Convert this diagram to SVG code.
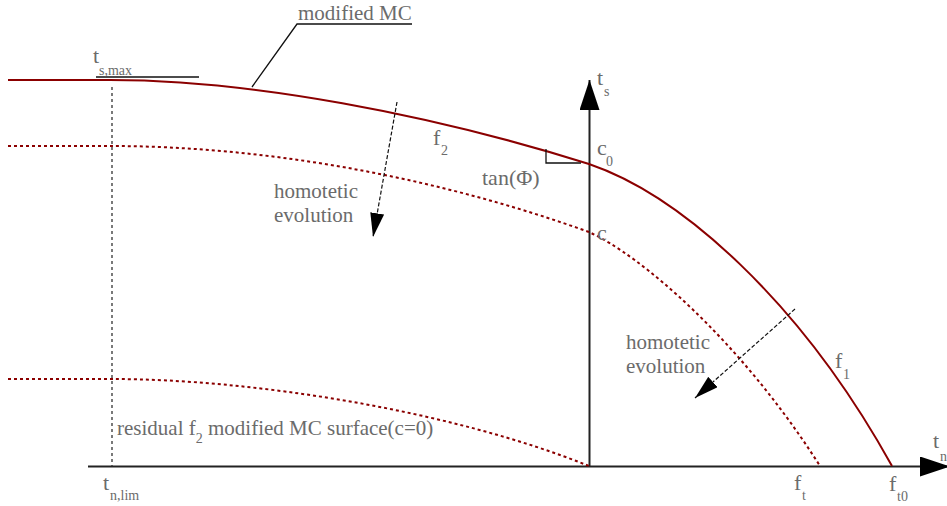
<svg xmlns="http://www.w3.org/2000/svg" width="947" height="506" viewBox="0 0 947 506">
<style>
  text { font-family: 'Liberation Serif', 'DejaVu Serif', serif; fill: #6b6b6b; }
  .lbl { font-size: 21px; }
  .var { font-size: 22px; }
  .sub { font-size: 14px; }
  .solid { fill: none; stroke: #8b0000; stroke-width: 2; }
  .dotted { fill: none; stroke: #8b0000; stroke-width: 2; stroke-dasharray: 3 3; }
  .axis { fill: none; stroke: #222; stroke-width: 2; }
  .guide { fill: none; stroke: #333; stroke-width: 1.3; stroke-dasharray: 3 3; }
  .arrow { fill: none; stroke: #111; stroke-width: 1.2; stroke-dasharray: 4 2; }
  .leader { fill: none; stroke: #111; stroke-width: 1.3; }
</style>
<defs>
  <marker id="headL" viewBox="0 0 30 20" refX="30" refY="10" markerWidth="30" markerHeight="20" markerUnits="userSpaceOnUse" orient="auto">
    <path d="M0,0 L30,10 L0,20 z" fill="#000"/>
  </marker>
  <marker id="headS" viewBox="0 0 24 14" refX="24" refY="7" markerWidth="24" markerHeight="14" markerUnits="userSpaceOnUse" orient="auto">
    <path d="M0,0 L24,7 L0,14 z" fill="#000"/>
  </marker>
</defs>
<rect width="947" height="506" fill="#fff"/>

<g id="axes">
  <line class="axis" x1="88" y1="466.5" x2="950" y2="466.5" marker-end="url(#headL)"/>
  <line class="axis" x1="589.5" y1="466.5" x2="589.5" y2="80" marker-end="url(#headL)"/>
  <line class="guide" x1="112" y1="87" x2="112" y2="466"/>
</g>

<g id="curve-modified-MC">
  <path class="solid" d="M8,80 H110 C250,80 430,114 589,164 C680,195 800,300 892,466"/>
</g>
<g id="curve-homotetic">
  <path class="dotted" d="M8,146 H110 C260,146 430,175 589,232 C640,255 740,340 820,466"/>
</g>
<g id="curve-residual">
  <path class="dotted" d="M8,379 H112 C250,379 450,410 589,466"/>
</g>

<g id="connectors">
  <line class="arrow" x1="397" y1="102" x2="373" y2="237" marker-end="url(#headS)"/>
  <line class="arrow" x1="795" y1="309" x2="695" y2="398" marker-end="url(#headS)"/>
  <polyline class="leader" points="412,24 297,24 252,87"/>
  <line class="leader" x1="96" y1="77" x2="199" y2="77"/>
  <polyline class="leader" points="546,149 546,163 581,163"/>
</g>

<g id="label-modified-MC"><text class="lbl" x="298" y="20">modified MC</text></g>
<g id="label-tsmax"><text class="var" x="93" y="63">t</text><text class="sub" x="99" y="75">s,max</text></g>
<g id="label-f2"><text class="var" x="433" y="145">f</text><text class="sub" x="441" y="155">2</text></g>
<g id="label-homotetic-1"><text class="lbl" x="274" y="198">homotetic</text><text class="lbl" x="274" y="222">evolution</text></g>
<g id="label-tan"><text class="var" x="482" y="185">tan(Φ)</text></g>
<g id="label-c0"><text class="var" x="597" y="155">c</text><text class="sub" x="606" y="166">0</text></g>
<g id="label-c"><text class="var" x="597" y="240">c</text></g>
<g id="label-ts"><text class="var" x="597" y="85">t</text><text class="sub" x="604" y="96">s</text></g>
<g id="label-homotetic-2"><text class="lbl" x="626" y="349">homotetic</text><text class="lbl" x="626" y="373">evolution</text></g>
<g id="label-f1"><text class="var" x="835" y="368">f</text><text class="sub" x="843" y="379">1</text></g>
<g id="label-tn"><text class="var" x="933" y="448">t</text><text class="sub" x="940" y="461" font-size="11">n</text></g>
<g id="label-ft"><text class="var" x="794" y="490">f</text><text class="sub" x="802" y="500">t</text></g>
<g id="label-ft0"><text class="var" x="889" y="491">f</text><text class="sub" x="897" y="501">t0</text></g>
<g id="label-tnlim"><text class="var" x="103" y="490">t</text><text class="sub" x="110" y="500">n,lim</text></g>
<g id="label-residual"><text class="lbl" x="117" y="435">residual f<tspan class="sub" dy="8">2</tspan><tspan dy="-8"> modified MC surface(c=0)</tspan></text></g>
</svg>
